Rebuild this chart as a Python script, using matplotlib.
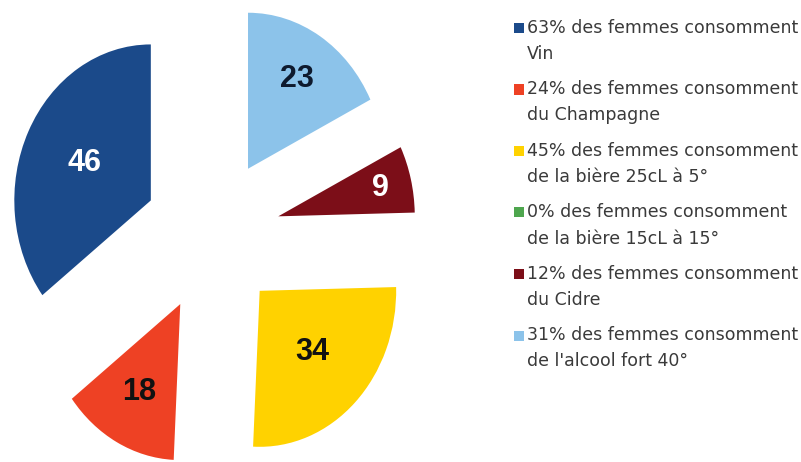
import numpy as np
import matplotlib
matplotlib.use("Agg")
import matplotlib.pyplot as plt
from matplotlib.patches import Rectangle

# data
values = [46, 18, 34, 0, 9, 23]
legend_labels = [
    "63% des femmes consomment\nVin",
    "24% des femmes consomment\ndu Champagne",
    "45% des femmes consomment\nde la bière 25cL à 5°",
    "0% des femmes consomment\nde la bière 15cL à 15°",
    "12% des femmes consomment\ndu Cidre",
    "31% des femmes consomment\nde l'alcool fort 40°",
]
colors = ["#1B4A8A", "#EE4124", "#FFD200", "#4EA64E", "#7C0E18", "#8CC3EA"]
label_colors = ["white", "#111111", "#111111", "#111111", "white", "#0E1A2E"]
label_dist = [0.54, 0.64, 0.55, 0.0, 0.77, 0.68]

W, H = 801, 462
fig = plt.figure(figsize=(W / 100, H / 100), dpi=100)
ax = fig.add_axes([0, 0, 1, 1])

explode = 0.5
wedges, _ = ax.pie(values, colors=colors, startangle=90, counterclock=True,
                   explode=[explode] * len(values),
                   wedgeprops=dict(linewidth=0))

# pie centre in pixels, and the (slightly squashed) radii
cx, cy, rx, ry = 212, 235, 136.5, 156
ax.set_aspect("auto")
ax.set_xlim(-cx / rx, (W - cx) / rx)
ax.set_ylim((cy - H) / ry, cy / ry)
ax.axis("off")

for w, v, c, d in zip(wedges, values, label_colors, label_dist):
    if v == 0:
        continue
    th = np.deg2rad((w.theta1 + w.theta2) / 2)
    r = explode + d
    ax.text(r * np.cos(th), r * np.sin(th), str(v), ha="center", va="center",
            fontsize=22, fontweight="bold", color=c, family="Liberation Sans")

# legend on the right, drawn by hand to get the spacing of the original
top, step, line_gap = 28, 61.5, 26
for i, (lab, col) in enumerate(zip(legend_labels, colors)):
    y = top + i * step
    fig.add_artist(Rectangle(((514) / W, 1 - (y + 5) / H), 10 / W, 10 / H,
                             transform=fig.transFigure, facecolor=col,
                             edgecolor="none"))
    for j, line in enumerate(lab.split("\n")):
        fig.text(527 / W, 1 - (y + j * line_gap) / H, line, ha="left",
                 va="center", fontsize=12.5, color="#3a3a3a",
                 family="DejaVu Sans")

fig.savefig("out.png", dpi=100, facecolor="white")
